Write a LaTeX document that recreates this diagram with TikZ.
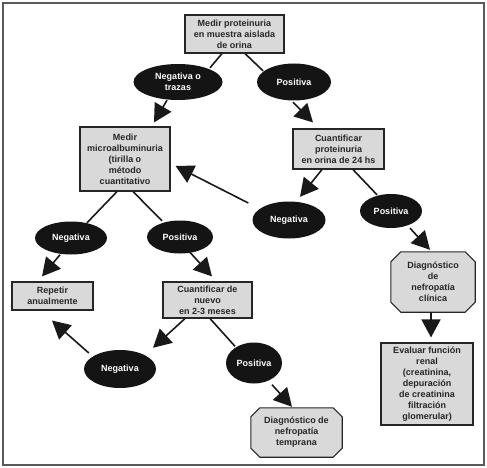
\documentclass[tikz,border=0pt]{standalone}
\usepackage{fontspec}
\setmainfont{Liberation Sans}
\usetikzlibrary{arrows.meta,shapes.geometric,calc}
\pgfdeclarelayer{background}
\pgfsetlayers{background,main}
\definecolor{boxfill}{HTML}{D9D9D9}
\definecolor{ink}{HTML}{262626}
\definecolor{frame}{HTML}{5A5A5A}
\tikzset{
  txt/.style={align=center,text=ink,font=\fontsize{9}{11}\selectfont\bfseries},
  gbox/.style={rectangle,draw=ink,line width=1.1pt,fill=boxfill,inner sep=0pt,txt},
  obox/.style={rectangle,inner sep=0pt,txt},
  ofill/.style={draw=ink,line width=1.1pt,fill=boxfill,line join=miter},
  oval/.style={ellipse,fill=black!92,inner sep=0pt,align=center,text=white,font=\fontsize{9}{11}\selectfont\bfseries},
  conn/.style={line width=1.6pt,draw=black!90},
  arr/.style={conn,-{Triangle[length=18pt,width=19pt]}},
}
\begin{document}
\begin{tikzpicture}[x=1pt,y=-1pt]
\useasboundingbox (0,0) rectangle (487,468);
\draw[frame,line width=1.3pt] (3,3) rectangle (484,465);

\node[gbox,minimum width=99pt,minimum height=38pt] (b1) at (234.5,34) {Medir proteinuria\\en muestra aislada\\de orina};
\node[oval,minimum width=89pt,minimum height=36pt] (nt) at (178,82) {Negativa o\\trazas};
\node[oval,minimum width=74pt,minimum height=37pt] (p1) at (294,82) {Positiva};
\node[gbox,minimum width=90pt,minimum height=64pt] (b2) at (125,159) {Medir\\microalbuminuria\\(tirilla o\\método\\cuantitativo};
\node[gbox,minimum width=91pt,minimum height=40pt] (b3) at (338.5,149) {Cuantificar\\proteinuria\\en orina de 24 hs};
\node[oval,minimum width=73pt,minimum height=37pt] (negr) at (289,220) {Negativa};
\node[oval,minimum width=62pt,minimum height=34pt] (posr) at (391,211) {Positiva};
\node[oval,minimum width=72pt,minimum height=33pt] (negl) at (71,238) {Negativa};
\node[oval,minimum width=66pt,minimum height=33pt] (posl) at (180,237) {Positiva};
\node[gbox,minimum width=81pt,minimum height=28pt] (b4) at (52.5,296) {Repetir\\anualmente};
\node[gbox,minimum width=89pt,minimum height=36pt] (b5) at (207.5,300) {Cuantificar de\\nuevo\\en 2-3 meses};
\node[obox,minimum width=84pt,minimum height=60pt] (o1) at (433,282) {Diagnóstico\\de\\nefropatía\\clínica};
\node[oval,minimum width=72pt,minimum height=38pt] (negb) at (120,369) {Negativa};
\node[oval,minimum width=56pt,minimum height=41pt] (posb) at (254,363) {Positiva};
\node[obox,minimum width=91pt,minimum height=49pt] (o2) at (296.5,432.5) {Diagnóstico de\\nefropatía\\temprana};
\node[gbox,minimum width=92pt,minimum height=82pt] (b6) at (427,384) {Evaluar función\\renal\\(creatinina,\\depuración\\de creatinina\\filtración\\glomerular)};

\begin{pgfonlayer}{background}
\foreach \o/\c in {o1/10,o2/9}{
  \draw[ofill] ($(\o.north west)+(\c,0)$) -- ($(\o.north east)+(-\c,0)$) -- ($(\o.north east)+(0,\c)$)
    -- ($(\o.south east)+(0,-\c)$) -- ($(\o.south east)+(-\c,0)$) -- ($(\o.south west)+(\c,0)$)
    -- ($(\o.south west)+(0,-\c)$) -- ($(\o.north west)+(0,\c)$) -- cycle;
}
\end{pgfonlayer}

\draw[conn] ($(b1.south)+(-12.5,0)$) -- ($(nt.north)+(32,4)$);
\draw[conn] ($(b1.south)+(10.5,0)$) -- ($(p1.north)+(-31,7.5)$);
\draw[arr] ($(nt.south)+(-11,0)$) -- ($(b2.north)+(29,-4)$);
\draw[arr] ($(p1.south)+(-1,1.5)$) -- ($(b3.north)+(-25.5,-6)$);
\draw[conn] ($(b2.south)+(-8,0)$) -- ($(negl.north)+(16,1.5)$);
\draw[conn] ($(b2.south)+(8,0)$) -- ($(posl.north)+(-18,0.5)$);
\draw[arr] ($(negl.south)+(-11,0)$) -- ($(b4.north)+(-10.5,-5)$);
\draw[arr] ($(posl.south)+(8,-3.5)$) -- ($(b5.north)+(4.5,-5)$);
\draw[arr] ($(b3.south)+(-16.5,0)$) -- ($(negr.north)+(11,-4.5)$);
\draw[conn] ($(b3.south)+(14.5,0)$) -- ($(posr.north)+(-14,1)$);
\draw[arr] ($(negr.west)+(-4,-17)$) -- ($(b2.east)+(5,7)$);
\draw[arr] ($(posr.south)+(19,0)$) -- ($(o1.north)+(-3,-2)$);
\draw[arr] ($(o1.south)+(-2,0)$) -- ($(b6.north)+(4,-5)$);
\draw[arr] ($(b5.south)+(-22.5,0)$) -- ($(negb.north)+(33,-2)$);
\draw[arr] ($(negb.west)+(5,-16)$) -- ($(b4.south)+(-0.5,10)$);
\draw[conn] ($(b5.south)+(2.5,0)$) -- ($(posb.north)+(-19,4)$);
\draw[arr] ($(posb.south)+(18,1)$) -- ($(o2.north)+(-4.5,-1)$);
\end{tikzpicture}
\end{document}
